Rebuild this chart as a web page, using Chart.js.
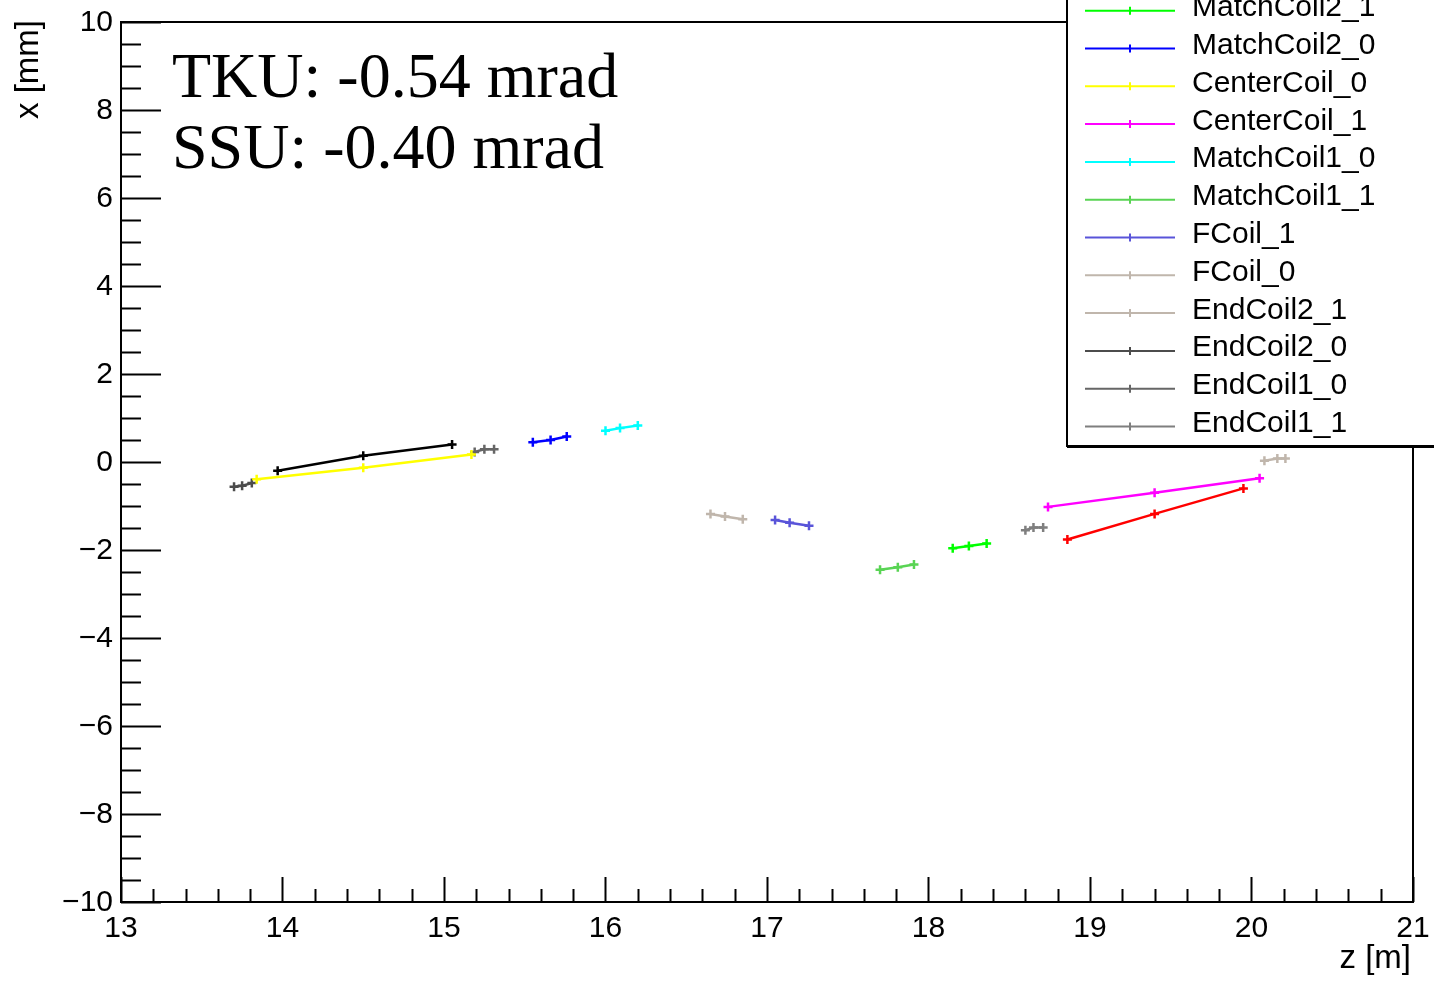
<!DOCTYPE html>
<html>
<head>
<meta charset="utf-8">
<script src="https://cdn.jsdelivr.net/npm/chart.js@4/dist/chart.umd.min.js"></script>
<style>
  html, body { margin: 0; padding: 0; background: #fff; }
  #wrap { width: 1434px; height: 981px; }
</style>
</head>
<body>
<div id="wrap"><canvas id="myChart" width="1434" height="981"></canvas></div>
<script>
// track fits and coil axes, z [m] vs x [mm]
const names = ["TKU", "TKD", "MatchCoil2_1", "MatchCoil2_0", "CenterCoil_0", "CenterCoil_1",
  "MatchCoil1_0", "MatchCoil1_1", "FCoil_1", "FCoil_0", "EndCoil2_1", "EndCoil2_0",
  "EndCoil1_0", "EndCoil1_1"];

const zValues = [
  [13.97, 14.50, 15.05],
  [18.86, 19.40, 19.95],
  [18.15, 18.25, 18.36],
  [15.55, 15.66, 15.76],
  [13.84, 14.50, 15.17],
  [18.74, 19.40, 20.05],
  [16.00, 16.09, 16.20],
  [17.70, 17.81, 17.91],
  [17.05, 17.14, 17.26],
  [16.65, 16.74, 16.85],
  [20.08, 20.16, 20.21],
  [13.70, 13.75, 13.81],
  [15.19, 15.25, 15.31],
  [18.60, 18.65, 18.71]
];

const xValues = [
  [-0.20, 0.14, 0.40],
  [-1.76, -1.18, -0.60],
  [-1.96, -1.91, -1.85],
  [0.45, 0.50, 0.58],
  [-0.39, -0.13, 0.17],
  [-1.02, -0.70, -0.37],
  [0.71, 0.77, 0.83],
  [-2.45, -2.39, -2.33],
  [-1.32, -1.38, -1.45],
  [-1.18, -1.24, -1.30],
  [0.03, 0.08, 0.08],
  [-0.56, -0.54, -0.48],
  [0.23, 0.29, 0.29],
  [-1.55, -1.49, -1.49]
];

const colors = ["#000000", "#ff0000", "#00ff00", "#0000ff", "#ffff00", "#ff00ff", "#00ffff",
  "#59d454", "#5954d9", "#c0b6ac", "#c0b6ac", "#4c4c4c", "#666666", "#7f7f7f"];

const zTicks = [13, 14, 15, 16, 17, 18, 19, 20, 21];
const xTicks = [-10, -8, -6, -4, -2, 0, 2, 4, 6, 8, 10];
const notes = ["TKU: -0.54 mrad", "SSU: -0.40 mrad"];

const sans = '"Liberation Sans", Arial, sans-serif';
const serif = '"Liberation Serif", "Times New Roman", serif';

function minus(v) {
  return v < 0 ? "\u2212" + Math.abs(v) : String(v);
}

// frame, inward ticks, labels and titles drawn off the chart's own scales
const rootAxes = {
  id: "rootAxes",
  afterDatasetsDraw(chart) {
    const ctx = chart.ctx;
    const xs = chart.scales.x, ys = chart.scales.y;
    const a = chart.chartArea;
    ctx.save();
    ctx.strokeStyle = "#000";
    ctx.lineWidth = 2;
    ctx.strokeRect(a.left, a.top, a.right - a.left, a.bottom - a.top);

    ctx.lineWidth = 2;
    ctx.beginPath();
    for (let v = 13; v <= 21.001; v += 0.2) {
      const px = Math.round(xs.getPixelForValue(v)) + 0.5;
      const major = Math.abs(v - Math.round(v)) < 1e-6;
      ctx.moveTo(px, a.bottom);
      ctx.lineTo(px, a.bottom - (major ? 25 : 13));
    }
    for (let v = -10; v <= 10.001; v += 0.5) {
      const py = Math.round(ys.getPixelForValue(v)) + 0.5;
      const major = Math.abs(v / 2 - Math.round(v / 2)) < 1e-6;
      ctx.moveTo(a.left, py);
      ctx.lineTo(a.left + (major ? 40 : 20), py);
    }
    ctx.stroke();

    ctx.fillStyle = "#000";
    ctx.font = "30px " + sans;
    ctx.textAlign = "center";
    ctx.textBaseline = "middle";
    zTicks.forEach(v => ctx.fillText(String(v), xs.getPixelForValue(v), a.bottom + 27));
    ctx.textAlign = "right";
    xTicks.forEach(v => ctx.fillText(minus(v), a.left - 8, ys.getPixelForValue(v) + 1));

    ctx.font = "33px " + sans;
    ctx.textBaseline = "alphabetic";
    ctx.textAlign = "right";
    ctx.fillText("z [m]", a.right - 2, 968);
    ctx.save();
    ctx.translate(38, a.top - 2);
    ctx.rotate(-Math.PI / 2);
    ctx.textAlign = "right";
    ctx.fillText("x [mm]", 0, 0);
    ctx.restore();

    ctx.font = "64px " + serif;
    ctx.textAlign = "left";
    ctx.fillText(notes[0], 172, 97);
    ctx.fillText(notes[1], 172, 168);
    ctx.restore();
  }
};

// boxed legend in the upper right, rows run past the top edge
const rootLegend = {
  id: "rootLegend",
  afterDraw(chart) {
    const ctx = chart.ctx;
    const left = 1067, right = 1440, bottom = 446;
    ctx.save();
    ctx.fillStyle = "#fff";
    ctx.fillRect(left, -20, right - left, bottom + 20);
    ctx.strokeStyle = "#000";
    ctx.lineWidth = 2;
    ctx.strokeRect(left, -20, right - left, bottom + 20);
    ctx.fillStyle = "#000";
    ctx.fillRect(left, bottom, right - left, 2);

    ctx.font = "30px " + sans;
    ctx.textAlign = "left";
    ctx.textBaseline = "alphabetic";
    chart.data.datasets.forEach((ds, i) => {
      const y = 10.7 + 37.8 * (i - 2);
      ctx.strokeStyle = ds.borderColor;
      ctx.lineWidth = 2;
      ctx.beginPath();
      ctx.moveTo(1085, y);
      ctx.lineTo(1175, y);
      ctx.moveTo(1130, y - 4);
      ctx.lineTo(1130, y + 4);
      ctx.stroke();
      ctx.fillStyle = "#000";
      ctx.fillText(ds.label, 1192, y + 5.5);
    });
    ctx.restore();
  }
};

const datasets = names.map((n, i) => ({
  label: n,
  data: zValues[i].map((z, j) => ({ x: z, y: xValues[i][j] })),
  showLine: true,
  borderColor: colors[i],
  backgroundColor: colors[i],
  borderWidth: 2.5,
  pointStyle: "cross",
  pointRadius: 4.5,
  pointBorderWidth: 2.5,
  pointBorderColor: colors[i],
  tension: 0
}));

const ctx = document.getElementById("myChart");
new Chart(ctx, {
  type: "scatter",
  data: { datasets: datasets },
  options: {
    responsive: false,
    animation: false,
    layout: { padding: { left: 121, top: 22, right: 21, bottom: 79 } },
    scales: {
      x: { type: "linear", min: 13, max: 21, display: false },
      y: { type: "linear", min: -10, max: 10, display: false }
    },
    plugins: {
      legend: { display: false },
      tooltip: { enabled: false }
    }
  },
  plugins: [rootAxes, rootLegend]
});
</script>
</body>
</html>
